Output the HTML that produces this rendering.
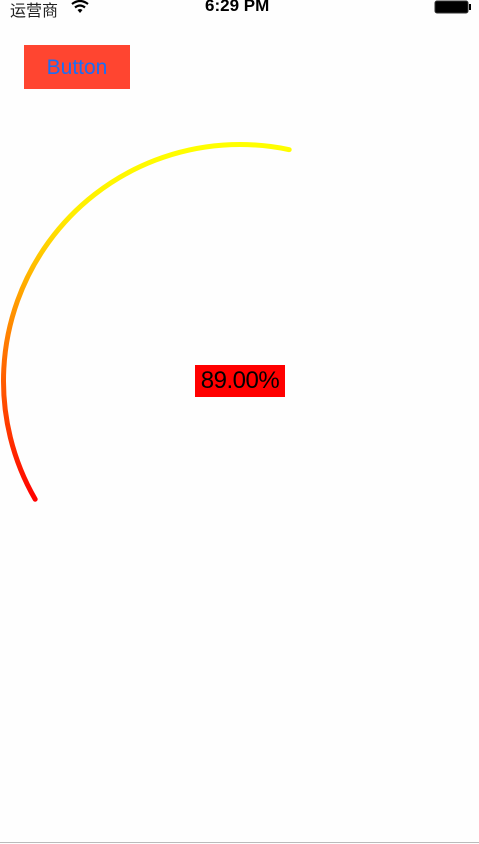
<!DOCTYPE html>
<html><head><meta charset="utf-8"><style>
html,body{margin:0;padding:0;width:479px;height:844px;background:#fefefe;overflow:hidden;font-family:"Liberation Sans","Noto Sans CJK SC",sans-serif;position:relative}
.status{position:absolute;top:0;left:0;width:479px;height:20px;font-size:16px}
#btn{position:absolute;left:24px;top:45px;width:106px;height:44px;background:#ff4530;color:#1a6ef5;font-size:21px;line-height:46px;text-align:center}
#lbl{position:absolute;left:195px;top:365px;width:90px;height:32px;background:#ff0000;color:#000;font-size:24px;line-height:32px;text-align:center;letter-spacing:-0.5px}
</style></head><body>
<div class="status">
<span style="position:absolute;left:10px;top:-3px;color:#222">运营商</span>
<svg style="position:absolute;left:70px;top:0" width="20" height="14" viewBox="0 0 20 14"><path d="M2 4 Q10 -2 18 4" stroke="#000" stroke-width="2.2" fill="none"/><path d="M5 7.5 Q10 3.5 15 7.5" stroke="#000" stroke-width="2.2" fill="none"/><path d="M10 13 L7.5 10 Q10 8 12.5 10 Z" fill="#000"/></svg>
<span style="position:absolute;left:205px;top:-4px;font-weight:bold;font-size:17px">6:29 PM</span>
<svg style="position:absolute;left:434px;top:0" width="40" height="14"><rect x="1" y="1" width="33" height="12" rx="2" fill="#000" stroke="#333"/><rect x="35" y="4" width="2" height="6" fill="#000"/></svg>
</div>
<div id="btn">Button</div>
<svg id="chart" width="479" height="844" style="position:absolute;left:0;top:0">
<defs><linearGradient id="g" gradientUnits="userSpaceOnUse" x1="0" y1="500" x2="0" y2="143">
<stop offset="0" stop-color="#ff0000"/><stop offset="0.55" stop-color="#ff9a00"/><stop offset="0.8" stop-color="#ffee00"/><stop offset="1" stop-color="#ffff00"/></linearGradient></defs>
</svg>
<div id="lbl">89.00%</div>
<div style="position:absolute;left:0;top:842px;width:479px;height:1px;background:#bbb"></div>
<script>
const progressValues=[0.89];
const arcStartDeg=[150];
const arcEndDeg=[282];
const cx=240,cy=381,r=236.5;
const svg=document.getElementById('chart');
function pt(a){const t=a*Math.PI/180;return [cx+r*Math.cos(t),cy+r*Math.sin(t)];}
const s=arcStartDeg[0],e=arcEndDeg[0];
const p0=pt(s),p1=pt(e);
const large=(e-s)>180?1:0;
const path=document.createElementNS('http://www.w3.org/2000/svg','path');


path.setAttribute('d',`M${p0[0]} ${p0[1]} A${r} ${r} 0 ${large} 1 ${p1[0]} ${p1[1]}`);
path.setAttribute('stroke','url(#g)');
path.setAttribute('stroke-width','5');
path.setAttribute('stroke-linecap','round');
path.setAttribute('fill','none');
svg.appendChild(path);
document.getElementById('lbl').textContent=(progressValues[0]*100).toFixed(2)+'%';
</script>
</body></html>
